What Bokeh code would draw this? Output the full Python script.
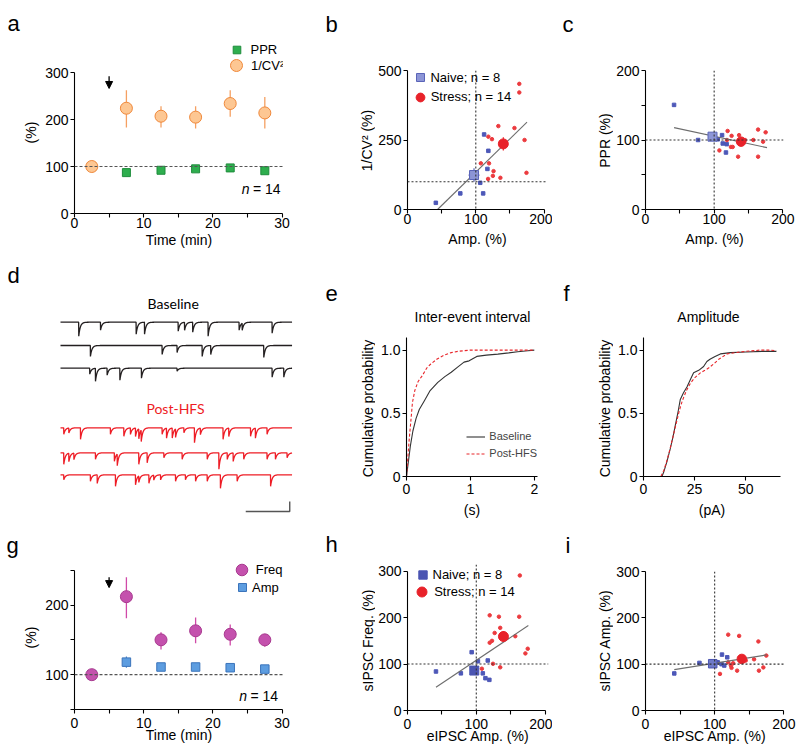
import numpy as np
from bokeh.plotting import figure
from bokeh.layouts import row, column
from bokeh.models import (Range1d, FixedTicker, Span, Label, Legend, LegendItem,
                          Arrow, NormalHead)
from bokeh.embed import file_html
from bokeh.resources import INLINE

FONT = "Liberation Sans"

# ---------------- data ----------------
# panels a / g : time course
time_min = [2.5, 7.5, 12.5, 17.5, 22.5, 27.5]
hfs_time = [5.0]
ppr_pct = [100, 87, 92, 95, 97, 91]
cv_pct = [100, 224, 207, 205, 234, 214]
cv_lo = [100, 183, 183, 181, 206, 181]
cv_hi = [100, 262, 228, 228, 262, 248]
freq_pct = [100, 212, 150, 163, 158, 150]
freq_lo = [100, 181, 136, 145, 142, 140]
freq_hi = [100, 240, 161, 182, 172, 158]
samp_pct = [100, 118, 111, 111, 110, 108]
samp_lo = [100, 110, 106, 106, 105, 103]
samp_hi = [100, 126, 116, 116, 115, 113]

# panel b : 1/CV2 vs Amp
b_naive_x = [41.5, 77.3, 95, 106.5, 110.8, 112.2, 117, 118.4]
b_naive_y = [24, 58, 118, 96, 58, 270, 146, 211]
b_stress_x = [107.4, 118, 118.4, 119.4, 123.7, 125, 126, 133, 136, 156.6, 163.7, 163.7, 171.4, 174.2]
b_stress_y = [166, 110, 262, 166, 253, 121, 138, 300, 114, 293, 452, 421, 250, 132]
b_mean_x = [97.4, 140.3]
b_mean_y = [124, 236]
b_err_x = [8, 5]
b_err_y = [24, 24]
b_fit_x = [44, 175]
b_fit_y = [0, 314]

# panel c : PPR vs Amp
c_naive_x = [41.6, 76.6, 95, 105.3, 111.5, 112.5, 117.2, 118.2]
c_naive_y = [150.5, 100, 103, 101, 107, 95, 82, 94]
c_stress_x = [107.6, 118.6, 119.6, 124.4, 125.4, 127, 134.9, 136.3, 145, 157, 164, 164, 171.3, 175]
c_stress_y = [85, 100, 113, 90, 106, 90, 76, 107, 100, 100, 115, 76, 97.6, 111]
c_mean_x = [97.6, 139.2]
c_mean_y = [104.8, 97.6]
c_err_x = [6, 5]
c_err_y = [4, 4]
c_fit_x = [41.6, 177]
c_fit_y = [117.8, 89]

# panel h : sIPSC freq vs eIPSC amp
h_naive_x = [41.4, 77.6, 93.3, 102.4, 109.5, 113.3, 116.7, 119]
h_naive_y = [84, 80, 125.6, 106, 80, 69.6, 107.7, 66]
h_stress_x = [108.1, 119.5, 119.5, 122.9, 124.3, 126.7, 132.9, 134.8, 134.8, 156.7, 162.4, 163.3, 171.4, 174.8]
h_stress_y = [90, 205, 146, 150, 100.6, 167, 202, 178, 93, 160, 202, 290.8, 123, 133]
h_mean_x = [97.1, 139.5]
h_mean_y = [86, 159.4]
h_err_x = [5, 5]
h_err_y = [8, 12]
h_fit_x = [41.4, 175.7]
h_fit_y = [50.2, 183]

# panel i : sIPSC amp vs eIPSC amp
i_naive_x = [41.6, 78, 95, 104.4, 110, 110.6, 113.9, 118.2]
i_naive_y = [80, 102.7, 100, 104, 100, 120.6, 97, 114.8]
i_stress_x = [107.7, 119.6, 119.6, 123.5, 124.4, 126.8, 132.5, 135.4, 145, 157, 163.2, 164, 170.4, 174.7]
i_stress_y = [79, 163.7, 104, 97, 92, 102, 86, 161, 108, 110.5, 149, 86, 93, 118.5]
i_mean_x = [97.2, 139.3]
i_mean_y = [101, 111.3]
i_err_x = [5, 5]
i_err_y = [4, 6]
i_fit_x = [41.6, 175.2]
i_fit_y = [88.3, 120]

# panel e : inter-event interval CDF
iei_base_s = [0, 0.03, 0.06, 0.1, 0.15, 0.2, 0.28, 0.37, 0.49, 0.6, 0.7, 0.8, 0.9, 0.98, 1.1, 1.25, 1.43, 1.6, 1.74, 1.9, 2.0]
iei_base_p = [0, 0.12, 0.24, 0.36, 0.46, 0.53, 0.6, 0.68, 0.745, 0.79, 0.825, 0.865, 0.905, 0.915, 0.95, 0.96, 0.968, 0.978, 0.987, 0.995, 1.0]
iei_post_s = [0, 0.02, 0.04, 0.07, 0.093, 0.13, 0.18, 0.25, 0.32, 0.38, 0.48, 0.59, 0.7, 0.8, 1.0, 1.3, 1.6, 2.0]
iei_post_p = [0, 0.14, 0.28, 0.45, 0.585, 0.68, 0.75, 0.80, 0.86, 0.89, 0.93, 0.96, 0.98, 0.99, 1.0, 1.0, 1.0, 1.0]

# panel f : amplitude CDF
amp_base_pa = [9, 10, 11.5, 13.1, 14.5, 15.5, 17, 18, 19.5, 21.3, 23, 24.5, 27, 29.4, 31, 32.7, 35, 37.6, 42.5, 50, 58, 65]
amp_base_p = [0, 0.04, 0.12, 0.22, 0.32, 0.40, 0.52, 0.61, 0.66, 0.71, 0.77, 0.82, 0.84, 0.87, 0.91, 0.93, 0.95, 0.97, 0.98, 0.985, 0.99, 0.99]
amp_post_pa = [8.5, 10, 11.5, 13, 14.5, 16, 17.5, 19, 21, 23, 25, 27.8, 30, 32, 34.3, 37, 40.9, 45, 50, 57, 62, 65]
amp_post_p = [0, 0.05, 0.13, 0.22, 0.32, 0.42, 0.52, 0.60, 0.68, 0.74, 0.78, 0.82, 0.84, 0.86, 0.89, 0.93, 0.97, 0.98, 0.99, 1.0, 1.0, 0.995]

# panel d : sIPSC events (ms, pA) in each sweep
sweep_ms = 1053
base_times = [[83, 182, 344, 382, 535, 564, 601, 671, 812, 826, 962],
              [136, 462, 530, 644, 683, 924],
              [133, 159, 212, 270, 368, 530, 962, 1015]]
base_amps = [[28, 16, 24, 24, 18, 16, 20, 28, 16, 14, 22],
             [22, 18, 14, 22, 18, 24],
             [12, 26, 14, 24, 20, 6, 18, 18]]
post_times = [[15, 38, 91, 227, 288, 318, 341, 356, 367, 462, 482, 508, 523, 561, 609, 636, 739, 765, 864, 886, 939],
              [15, 38, 61, 159, 245, 258, 356, 394, 470, 553, 667, 720, 758, 785, 833, 939, 977, 1030],
              [15, 136, 167, 250, 341, 356, 402, 424, 455, 523, 568, 614, 667, 727, 803, 955]]
post_amps = [[13, 10, 23, 13, 17, 13, 17, 20, 23, 13, 20, 20, 17, 10, 30, 13, 23, 17, 17, 20, 13],
             [23, 17, 13, 13, 17, 23, 23, 20, 10, 13, 13, 33, 13, 17, 13, 13, 13, 10],
             [10, 13, 17, 23, 20, 13, 17, 10, 10, 13, 10, 13, 13, 27, 13, 23]]
scalebar_ms = 200
scalebar_pA = 20

# ---------------- layout helpers ----------------
NAIVE_PT = "#4d58b8"
STRESS_PT = "#ec3a3e"
STRESS_MEAN = "#e8222a"
TOTAL_H = 752


def base_fig(w, h, bl, br, bt, bb, xr, yr, axes=True):
    kw = {}
    if not axes:
        kw = dict(x_axis_type=None, y_axis_type=None)
    p = figure(width=w, height=h, x_range=Range1d(*xr), y_range=Range1d(*yr),
               min_border_left=bl, min_border_right=br, min_border_top=bt,
               min_border_bottom=bb, output_backend="svg", toolbar_location=None,
               tools="", **kw)
    p.grid.visible = False
    p.outline_line_color = None
    p.background_fill_color = "white"
    p.border_fill_color = "white"
    if "frame_align" in p.properties():
        p.frame_align = False
    return p


def style_axes(p, xt, xm, yt, ym, xlabel, xover=None, yover=None,
               xb=None, yb=None, xls=0, xas=1, yls=2):
    for ax, t, m, lab, ov, b, ls, las in ((p.xaxis[0], xt, xm, xlabel, xover, xb, xls, xas),
                                         (p.yaxis[0], yt, ym, None, yover, yb, yls, 0)):
        ax.ticker = FixedTicker(ticks=t, minor_ticks=m)
        ax.axis_label = lab
        ax.axis_label_text_font = FONT
        ax.axis_label_text_font_size = "14px"
        ax.axis_label_text_font_style = "normal"
        ax.axis_label_text_color = "black"
        ax.major_label_text_font = FONT
        ax.major_label_text_font_size = "14px"
        ax.major_label_text_color = "black"
        ax.axis_line_color = "black"
        ax.axis_line_width = 1.1
        ax.major_tick_line_color = "black"
        ax.minor_tick_line_color = "black"
        ax.major_tick_line_width = 1.1
        ax.minor_tick_line_width = 1.1
        ax.major_tick_in = 0
        ax.major_tick_out = 4
        ax.minor_tick_in = 0
        ax.minor_tick_out = 4
        ax.major_label_standoff = ls
        ax.axis_label_standoff = las
        if ov:
            ax.major_label_overrides = ov
        if b:
            ax.bounds = b


def txt(p, geo, sx, sy, text, size="14px", color="black", align="left",
        baseline="middle", style="normal", font=FONT):
    left, bottom = geo
    p.add_layout(Label(x=sx - left, y=bottom - sy, x_units="screen", y_units="screen",
                       text=text, text_font=font, text_font_size=size, text_color=color,
                       text_align=align, text_baseline=baseline, text_font_style=style))


def key(p, geo, rends, text, msx, msy, msize, text_sx, fs="13px"):
    left, bottom = geo
    g = int(round(msize / 0.4))
    lg = Legend(items=[LegendItem(label=text, renderers=rends)],
                location=(msx - left - g / 2.0, bottom - msy - g / 2.0),
                glyph_width=g, glyph_height=g, label_height=g, label_width=10,
                label_standoff=int(round(text_sx - (msx + g / 2.0))),
                padding=0, margin=0, spacing=0,
                border_line_color=None, background_fill_color=None,
                label_text_font=FONT, label_text_font_size=fs, label_text_color="black")
    p.add_layout(lg)


def dashed_cross(p, color="#333"):
    p.add_layout(Span(location=100, dimension="width", line_color=color,
                      line_dash="2 2", line_width=1.1))
    p.add_layout(Span(location=100, dimension="height", line_color=color,
                      line_dash="2 2", line_width=1.1))


def scatter_panel(p, nx, ny, sx_, sy_, fx, fy, mx, my, ex, ey, naive_fill, naive_line,
                  nsize, ssize):
    p.scatter(nx, ny, marker="square", size=3.5, fill_color=NAIVE_PT, line_color=NAIVE_PT)
    p.scatter(sx_, sy_, marker="circle", size=3.5, fill_color=STRESS_PT, line_color=STRESS_PT)
    p.line(fx, fy, line_color="#6d6d6d", line_width=1.1)
    mx_a = np.array(mx, dtype=float)
    my_a = np.array(my, dtype=float)
    ex_a = np.array(ex, dtype=float)
    ey_a = np.array(ey, dtype=float)
    cols = [naive_line, STRESS_MEAN]
    p.segment(x0=mx_a - ex_a, y0=my_a, x1=mx_a + ex_a, y1=my_a, line_color=cols, line_width=1.2)
    p.segment(x0=mx_a, y0=my_a - ey_a, x1=mx_a, y1=my_a + ey_a, line_color=cols, line_width=1.2)
    rn = p.scatter(mx[:1], my[:1], marker="square", size=nsize, fill_color=naive_fill,
                   line_color=naive_line, line_width=1)
    rs = p.scatter(mx[1:], my[1:], marker="circle", size=ssize, fill_color=STRESS_MEAN,
                   line_color=STRESS_MEAN)
    return rn, rs


# text strips (coordinates = page pixels)
def strip(x0, x1):
    return base_fig(x1 - x0, TOTAL_H, 0, 0, 0, 0, (x0, x1), (TOTAL_H, 0), axes=False)


def strip_letter(p, x, y, t):
    p.add_layout(Label(x=x, y=y, text=t, text_font=FONT, text_font_size="22px",
                       text_baseline="alphabetic", text_align="left", text_color="black"))


def strip_ylabel(p, x, y, t):
    p.add_layout(Label(x=x, y=y, text=t, text_font=FONT, text_font_size="14px",
                       text_baseline="middle", text_align="center", angle=np.pi / 2,
                       text_color="black"))


S0 = strip(0, 42)
S1 = strip(300, 375)
S2 = strip(552, 613)

strip_letter(S0, 7, 23, "a")
strip_letter(S0, 7, 275, "d")
strip_letter(S0, 6, 545, "g")
strip_ylabel(S0, 30, 132, "(%)")
strip_ylabel(S0, 30, 637, "(%)")

strip_letter(S1, 325, 24, "b")
strip_letter(S1, 325, 293, "e")
strip_letter(S1, 325, 544, "h")
strip_ylabel(S1, 366, 140, "1/CV\u00b2 (%)")
strip_ylabel(S1, 367, 408, "Cumulative probability")
strip_ylabel(S1, 367, 640, "sIPSC Freq. (%)")

strip_letter(S2, 562, 24, "c")
strip_letter(S2, 563, 293, "f")
strip_letter(S2, 565, 545, "i")
strip_ylabel(S2, 604, 140, "PPR (%)")
strip_ylabel(S2, 604, 408, "Cumulative probability")
strip_ylabel(S2, 604, 640, "sIPSC Amp. (%)")

# ---------------- panel a ----------------
A_SCALE = 0.47
pa = base_fig(258, 254, 30, 17, 37, 41, (0, 30.2), (0, 176 / A_SCALE))
GA = (72, 213)
style_axes(pa, [0, 10, 20, 30], [5, 15, 25], [0, 100, 200, 300], [], "Time (min)",
           xb=(0, 30), yb=(0, 300), xls=0, xas=1)
pa.add_layout(Span(location=100, dimension="width", line_color="#555",
                   line_dash="3 2", line_width=1.2))
pa.segment(x0=time_min, y0=cv_lo, x1=time_min, y1=cv_hi, line_color="#f5a062", line_width=1.3)
r_ppr = pa.scatter(time_min, ppr_pct, marker="square", size=8, fill_color="#2eae4e",
                   line_color="#1e8c3c")
r_cv = pa.scatter(time_min, cv_pct, marker="circle", size=12, fill_color="#fdc793",
                  line_color="#f0883a", line_width=1)
pa.add_layout(Arrow(end=NormalHead(size=7, fill_color="black", line_color="black"),
                    x_start=hfs_time[0], y_start=292, x_end=hfs_time[0], y_end=266,
                    line_color="black", line_width=1.3))
key(pa, GA, [r_ppr], "PPR", 234, 49, 7.5, 248.3)
key(pa, GA, [r_cv], "1/CV\u00b2", 234, 65, 12, 248.3)
txt(pa, GA, 239.3, 188.3, "n", style="italic")
txt(pa, GA, 250.5, 188.3, "= 14")

# ---------------- panel d ----------------
PX_PER_MS = 0.22
T0_SX = 60.0
pd_ = base_fig(258, 266, 0, 0, 0, 0,
               ((42 - T0_SX) / PX_PER_MS, (300 - T0_SX) / PX_PER_MS), (-532, 0), axes=False)


def sy_to_d(sy):
    return (254 - sy) * 2.0


def sweep(times, amps, offset, tau=7.0):
    t = np.arange(0, sweep_ms, 0.5)
    y = np.full(t.shape, offset, dtype=float)
    for te, a in zip(times, amps):
        m = t >= te
        y[m] -= a * np.exp(-(t[m] - te) / tau)
    return t, y


for k, sy in enumerate([321.7, 345, 367.7]):
    t, y = sweep(base_times[k], base_amps[k], sy_to_d(sy))
    pd_.line(t, y, line_color="#231f20", line_width=1.3)
for k, sy in enumerate([427.3, 452.3, 474.3]):
    t, y = sweep(post_times[k], post_amps[k], sy_to_d(sy))
    pd_.line(t, y, line_color="#ee1c25", line_width=1.3)
sb_end = 1042
sb_y = sy_to_d(511)
pd_.line([sb_end - scalebar_ms, sb_end, sb_end], [sb_y, sb_y, sb_y + scalebar_pA],
         line_color="#555", line_width=1.4)
pd_.add_layout(Label(x=(172.7 - T0_SX) / PX_PER_MS, y=sy_to_d(303.3), text="Baseline",
                     text_font="Lato", text_font_size="14px", text_align="center",
                     text_baseline="middle", text_color="black"))
pd_.add_layout(Label(x=(175 - T0_SX) / PX_PER_MS, y=sy_to_d(408.3), text="Post-HFS",
                     text_font="Lato", text_font_size="14px", text_align="center",
                     text_baseline="middle", text_color="#ee1c25"))

# ---------------- panel g ----------------
G_SCALE = 0.6965
pg = base_fig(258, 232, 30, 17, 32, 43, (0, 30.2), (50, 50 + 157 / G_SCALE))
GG = (72, 709.3)
style_axes(pg, [0, 10, 20, 30], [5, 15, 25], [100, 200], [50, 150, 250], "Time (min)",
           xb=(0, 30), yb=(50, 250), xls=4, xas=-4)
pg.add_layout(Span(location=100, dimension="width", line_color="#555",
                   line_dash="3 2", line_width=1.2))
pg.segment(x0=time_min, y0=samp_lo, x1=time_min, y1=samp_hi, line_color="#4a86cc", line_width=1.2)
r_samp = pg.scatter(time_min, samp_pct, marker="square", size=8.5, fill_color="#5d9de0",
                    line_color="#3b74bb")
pg.segment(x0=time_min, y0=freq_lo, x1=time_min, y1=freq_hi, line_color="#d04aa8", line_width=1.3)
r_freq = pg.scatter(time_min, freq_pct, marker="circle", size=12, fill_color="#c451ad",
                    line_color="#a8398f")
pg.add_layout(Arrow(end=NormalHead(size=7, fill_color="black", line_color="black"),
                    x_start=hfs_time[0], y_start=240, x_end=hfs_time[0], y_end=225,
                    line_color="black", line_width=1.3))
key(pg, GG, [r_freq], "Freq", 239.3, 570, 11.5, 248.3)
key(pg, GG, [r_samp], "Amp", 240, 587.3, 8, 248.3)
txt(pg, GG, 236.7, 696, "n", style="italic")
txt(pg, GG, 248, 696, "= 14")

# ---------------- panel b ----------------
pb = base_fig(177, 254, 29, 5, 70, 45, (0, 205), (0, 500))
GB = (404.3, 209.3)
style_axes(pb, [0, 100, 200], [50, 150], [0, 250, 500], [], "Amp. (%)",
           xb=(0, 200), xls=0, xas=4)
dashed_cross(pb)
rbn, rbs = scatter_panel(pb, b_naive_x, b_naive_y, b_stress_x, b_stress_y, b_fit_x, b_fit_y,
                         b_mean_x, b_mean_y, b_err_x, b_err_y, "#8c95d6", "#5a64b8", 9, 10)
key(pb, GB, [rbn], "Naive; n = 8", 417.7, 77.3, 8, 426.7)
key(pb, GB, [rbs], "Stress; n = 14", 417, 97, 9, 426.7)

# ---------------- panel e ----------------
E_SCALE = 126.4
pe = base_fig(177, 266, 31, 15, 51, 44, (0, 2.05), (0, 171 / E_SCALE))
GE = (405.7, 477)
style_axes(pe, [0, 1, 2], [], [0, 0.5, 1.0], [], "(s)",
           yover={0: "0", 0.5: "0.5", 1: "1.0"}, yb=(0, 1.1), xls=3, xas=5)
r_eb = pe.line(iei_base_s, iei_base_p, line_color="#333333", line_width=1.1)
r_ep = pe.line(iei_post_s, iei_post_p, line_color="#e8262b", line_width=1.1, line_dash="3 2")
pe.add_layout(Legend(items=[LegendItem(label="Baseline", renderers=[r_eb]),
                            LegendItem(label="Post-HFS", renderers=[r_ep])],
                     location=(466 - GE[0], GE[1] - (428.5 + 34)),
                     glyph_width=19, glyph_height=17, label_height=17, label_width=10,
                     spacing=0, label_standoff=4, padding=0, margin=0,
                     border_line_color=None, background_fill_color=None,
                     label_text_font=FONT, label_text_font_size="11px"))
txt(pe, GE, 471.7, 317.7, "Inter-event interval", align="center")

# ---------------- panel h ----------------
H_SCALE = 0.4643
ph = base_fig(177, 232, 30, 4, 44, 42, (0, 205), (0, 146 / H_SCALE))
GH = (405, 710)
style_axes(ph, [0, 100, 200], [50, 150], [0, 100, 200, 300], [], "eIPSC Amp. (%)",
           xb=(0, 200), yb=(0, 300), xls=4, xas=-4)
dashed_cross(ph)
rhn, rhs = scatter_panel(ph, h_naive_x, h_naive_y, h_stress_x, h_stress_y, h_fit_x, h_fit_y,
                         h_mean_x, h_mean_y, h_err_x, h_err_y, "#4b55b2", "#4b55b2", 9, 10)
key(ph, GH, [rhn], "Naive; n = 8", 420, 574, 8.5, 429)
key(ph, GH, [rhs], "Stress; n = 14", 419.7, 591, 10, 429)

# ---------------- panel c ----------------
pc = base_fig(186, 254, 30, 16, 70, 45, (0, 201), (0, 200))
GC = (643.3, 209.3)
style_axes(pc, [0, 100, 200], [50, 150], [0, 100, 200], [50, 150], "Amp. (%)",
           xb=(0, 200), xls=0, xas=4)
dashed_cross(pc)
scatter_panel(pc, c_naive_x, c_naive_y, c_stress_x, c_stress_y, c_fit_x, c_fit_y,
              c_mean_x, c_mean_y, c_err_x, c_err_y, "#8c95d6", "#5a64b8", 9, 9.5)

# ---------------- panel f ----------------
pf = base_fig(186, 266, 30, 19, 51, 44, (0, 67), (0, 171 / E_SCALE))
GF = (643, 477)
style_axes(pf, [0, 25, 50], [], [0, 0.5, 1.0], [], "(pA)",
           yover={0: "0", 0.5: "0.5", 1: "1.0"}, yb=(0, 1.1), xls=3, xas=5)
pf.line(amp_base_pa, amp_base_p, line_color="#333333", line_width=1.1)
pf.line(amp_post_pa, amp_post_p, line_color="#e8262b", line_width=1.1, line_dash="3 2")
txt(pf, GF, 708, 317.7, "Amplitude", align="center")

# ---------------- panel i ----------------
pi = base_fig(186, 232, 31, 15, 51, 42, (0, 201), (0, 300))
GI = (644, 710)
style_axes(pi, [0, 100, 200], [50, 150], [0, 100, 200, 300], [], "eIPSC Amp. (%)",
           xb=(0, 200), xls=4, xas=-4)
dashed_cross(pi)
scatter_panel(pi, i_naive_x, i_naive_y, i_stress_x, i_stress_y, i_fit_x, i_fit_y,
              i_mean_x, i_mean_y, i_err_x, i_err_y, "#6f7ac8", "#4b55b2", 8.5, 9.5)

layout = row(S0, column(pa, pd_, pg, spacing=0), S1, column(pb, pe, ph, spacing=0),
             S2, column(pc, pf, pi, spacing=0), spacing=0)

open("out.html", "w").write(file_html(layout, INLINE))
